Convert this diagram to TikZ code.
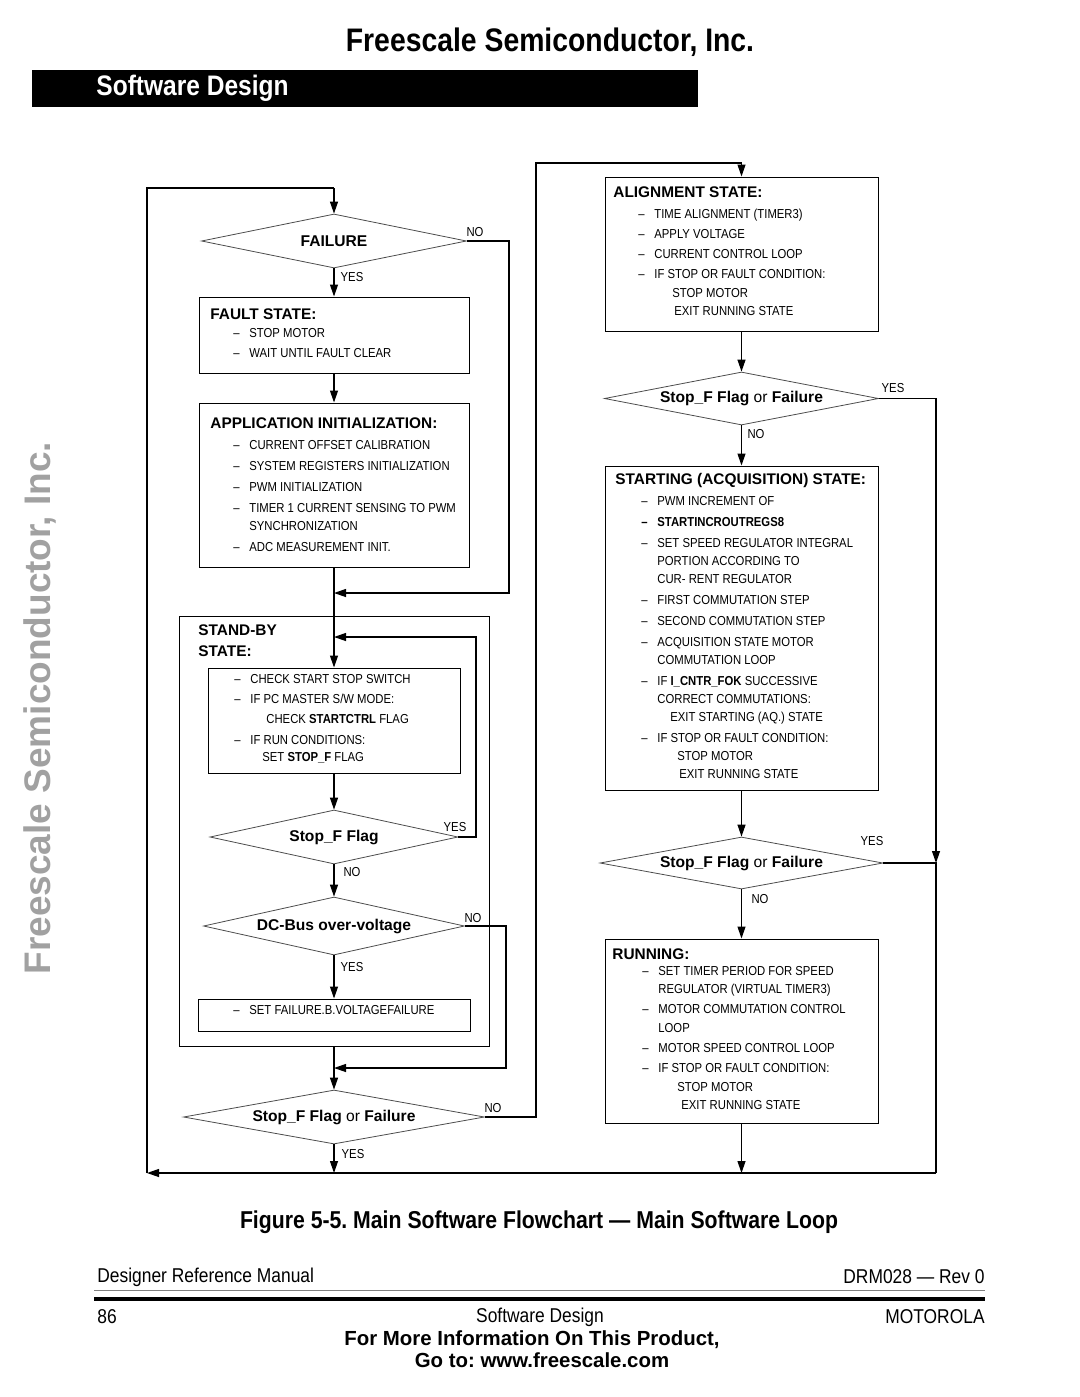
\documentclass[tikz,border=0pt]{standalone}
\usepackage{fontspec}
\setmainfont{Liberation Sans}
\newfontfamily\narrowfont[FakeStretch=0.87]{Liberation Sans}
\usetikzlibrary{arrows.meta,positioning,shapes.geometric,fit}
\definecolor{wmgray}{gray}{0.63}
\definecolor{rulegray}{gray}{0.5}
\frenchspacing

\newlength{\dashind}
\NewDocumentCommand\itm{m}{\hspace*{\dashind}\makebox[8pt][l]{–}#1}
\NewDocumentCommand\cnt{O{0pt}m}{\hspace*{\dashind}\hspace*{8pt}\hspace*{#1}#2}
\NewDocumentCommand\ttl{m}{{\normalfont\bfseries\fontsize{7.7}{9}\selectfont #1}}
\newcommand{\itmfont}{\narrowfont\fontsize{6.5}{9}\selectfont}
\newcommand{\dlbfont}{\normalfont\bfseries\fontsize{7.8}{9}\selectfont}

\begin{document}
\begin{tikzpicture}[x=0.5pt,y=-0.5pt,
  box/.style={draw,line width=0.5pt,inner sep=0pt},
  dia/.style={diamond,draw=black!70,line width=0.4pt,inner sep=0pt,font=\dlbfont},
  txt/.style={anchor=north west,inner sep=0pt,align=left,font=\itmfont},
  lbl/.style={inner sep=0pt,font=\itmfont},
  ind/.code={\setlength{\dashind}{#1}},
  ln/.style={line width=0.6pt},
  arr/.style={ln,-{Triangle[length=6pt,width=4pt]}}
  ]
\useasboundingbox (0,0) rectangle (1080,1397);

% page head
\node[font=\narrowfont\bfseries\fontsize{16.3}{18}\selectfont] (head) at (550,42) {Freescale Semiconductor, Inc.};
\node[fill=black,inner sep=0pt,fit={(32,70) (698,107)}] (bar) {};
\node[anchor=west,inner sep=0pt,text=white,font=\narrowfont\bfseries\fontsize{14.1}{16}\selectfont] (barT) at (96,88) {Software Design};
\node[rotate=90,inner sep=0pt,text=wmgray,font=\bfseries\fontsize{18.5}{20}\selectfont] (wm) at (40,708) {Freescale Semiconductor, Inc.};

% left column
\node[dia,minimum width=132.5pt,minimum height=27pt,aspect=4.9] (fail) at (334,241) {FAILURE};
\node[box,fit={(199,297) (469,373)}] (fault) {};
\node[txt,ind=11.5pt] (faultT) at (210,308.5) {\ttl{FAULT STATE:}\\
  \itm{STOP MOTOR}\\[1pt]
  \itm{WAIT UNTIL FAULT CLEAR}};
\node[box,fit={(199,403) (469,567)}] (app) {};
\node[txt,ind=11.5pt] (appT) at (210,417.5) {\ttl{APPLICATION INITIALIZATION:}\\[1.5pt]
  \itm{CURRENT OFFSET CALIBRATION}\\[1.5pt]
  \itm{SYSTEM REGISTERS INITIALIZATION}\\[1.5pt]
  \itm{PWM INITIALIZATION}\\[1.5pt]
  \itm{TIMER 1 CURRENT SENSING TO PWM}\\
  \cnt{SYNCHRONIZATION}\\[1.5pt]
  \itm{ADC MEASUREMENT INIT.}};
\node[box,fit={(179,616) (489,1046)}] (sbout) {};
\node[txt] (sboutT) at (198,624.5) {\ttl{STAND-BY}\\[1.5pt]\ttl{STATE:}};
\node[box,fit={(208,668) (460,773)}] (sbin) {};
\node[txt,ind=0pt] (sbinT) at (234,674.3) {\itm{CHECK START STOP SWITCH}\\[1pt]
  \itm{IF PC MASTER S/W MODE:}\\[1pt]
  \cnt[8pt]{CHECK \textbf{STARTCTRL} FLAG}\\[1.5pt]
  \itm{IF RUN CONDITIONS:}\\[-0.5pt]
  \cnt[6pt]{SET \textbf{STOP\_F} FLAG}};
\node[dia,minimum width=124pt,minimum height=27pt,aspect=4.6] (stopf) at (334,837) {Stop\_F Flag};
\node[dia,minimum width=130.5pt,minimum height=29pt,aspect=4.5] (dcbus) at (334,926) {DC-Bus over-voltage};
\node[box,fit={(198,999) (470,1031)}] (setf) {};
\node[txt,ind=0pt] (setfT) at (233,1005.3) {\itm{SET FAILURE.B.VOLTAGEFAILURE}};
\node[dia,minimum width=150.5pt,minimum height=27pt,aspect=5.6] (sff) at (334,1117) {Stop\_F Flag \textmd{or} Failure};

% right column
\node[box,fit={(605,177) (878,331)}] (align) {};
\node[txt,ind=12.5pt] (alignT) at (613,186.5) {\ttl{ALIGNMENT STATE:}\\[1.5pt]
  \itm{TIME ALIGNMENT (TIMER3)}\\[1pt]
  \itm{APPLY VOLTAGE}\\[1pt]
  \itm{CURRENT CONTROL LOOP}\\[1pt]
  \itm{IF STOP OR FAULT CONDITION:}\\[0.5pt]
  \cnt[9pt]{STOP MOTOR}\\
  \cnt[10pt]{EXIT RUNNING STATE}};
\node[dia,minimum width=137pt,minimum height=26.5pt,aspect=5.2] (sfr1) at (741.5,398.5) {Stop\_F Flag \textmd{or} Failure};
\node[box,fit={(605,466) (878,790)}] (start) {};
\node[txt,ind=13pt] (startT) at (615,473) {\ttl{STARTING (ACQUISITION) STATE:}\\[1.5pt]
  \itm{PWM INCREMENT OF}\\[1.5pt]
  \textbf{\itm{STARTINCROUTREGS8}}\\[1.5pt]
  \itm{SET SPEED REGULATOR INTEGRAL}\\
  \cnt{PORTION ACCORDING TO}\\
  \cnt{CUR- RENT REGULATOR}\\[1.5pt]
  \itm{FIRST COMMUTATION STEP}\\[1.5pt]
  \itm{SECOND COMMUTATION STEP}\\[1.5pt]
  \itm{ACQUISITION STATE MOTOR}\\
  \cnt{COMMUTATION LOOP}\\[1.5pt]
  \itm{IF \textbf{I\_CNTR\_FOK} SUCCESSIVE}\\
  \cnt{CORRECT COMMUTATIONS:}\\
  \cnt[6.5pt]{EXIT STARTING (AQ.) STATE}\\[1.5pt]
  \itm{IF STOP OR FAULT CONDITION:}\\
  \cnt[10pt]{STOP MOTOR}\\
  \cnt[11pt]{EXIT RUNNING STATE}};
\node[dia,minimum width=141.5pt,minimum height=26pt,aspect=5.4] (sfr2) at (741.5,863) {Stop\_F Flag \textmd{or} Failure};
\node[box,fit={(605,939) (878,1123)}] (run) {};
\node[txt,ind=15pt] (runT) at (612,948.5) {\ttl{RUNNING:}\\[-1pt]
  \itm{SET TIMER PERIOD FOR SPEED}\\
  \cnt{REGULATOR (VIRTUAL TIMER3)}\\[1pt]
  \itm{MOTOR COMMUTATION CONTROL}\\[0.5pt]
  \cnt{LOOP}\\[1pt]
  \itm{MOTOR SPEED CONTROL LOOP}\\[1pt]
  \itm{IF STOP OR FAULT CONDITION:}\\[0.5pt]
  \cnt[9.5pt]{STOP MOTOR}\\
  \cnt[11.5pt]{EXIT RUNNING STATE}};

% yes / no
\node[lbl] (failNo) at (475,232) {NO};
\node[lbl] (failYes) at (352,277) {YES};
\node[lbl] (stopfYes) at (455,827) {YES};
\node[lbl] (stopfNo) at (352,872) {NO};
\node[lbl] (dcNo) at (473,918) {NO};
\node[lbl] (dcYes) at (352,967) {YES};
\node[lbl] (sffNo) at (493,1108) {NO};
\node[lbl] (sffYes) at (353,1154) {YES};
\node[lbl] (sfr1Yes) at (893,388) {YES};
\node[lbl] (sfr1No) at (756,434) {NO};
\node[lbl] (sfr2Yes) at (872,841) {YES};
\node[lbl] (sfr2No) at (760,899) {NO};

% bend points
\coordinate (tA) at (334,188);
\coordinate (bL) at (147,1173);
\coordinate (bR) at (936,1173);
\coordinate (b1) at (334,1173);
\coordinate (b2) at (741.5,1173);
\coordinate (j1) at (334,593);
\coordinate (noA) at (509,593);
\coordinate (j2) at (334,637);
\coordinate (sbA) at (476,637);
\coordinate (j3) at (334,1068);
\coordinate (dcA) at (506,1068);
\coordinate (nB) at (536,163);
\coordinate (j4) at (936,863);

\draw[arr] (fail.south) -- (fault.north);
\draw[arr] (fault.south) -- (app.north);
\draw[arr] (app.south) -- (sbin.north);
\draw[arr] (fail.east) -| (noA) -- (j1);
\draw[arr] (sbin.south) -- (stopf.north);
\draw[arr] (stopf.east) -| (sbA) -- (j2);
\draw[arr] (stopf.south) -- (dcbus.north);
\draw[arr] (dcbus.south) -- (setf.north);
\draw[arr] (dcbus.east) -| (dcA) -- (j3);
\draw[arr] (sbout.south) -- (sff.north);
\draw[arr] (sff.south) -- (b1);
\draw[arr] (sff.east) -| (nB) -| (align.north);
\draw[arr] (align.south) -- (sfr1.north);
\draw[arr] (sfr1.south) -- (start.north);
\draw[arr] (start.south) -- (sfr2.north);
\draw[arr] (sfr2.south) -- (run.north);
\draw[arr] (run.south) -- (b2);
\draw[arr] (sfr1.east) -| (j4);
\draw[ln] (sfr2.east) -- (j4) -- (bR);
\draw[arr] (bR) -- (bL);
\draw[ln] (bL) |- (tA);
\draw[arr] (tA) -- (fail.north);

% caption and page foot
\node[font=\narrowfont\bfseries\fontsize{12.2}{14}\selectfont] (cap) at (539,1222) {Figure 5-5. Main Software Flowchart — Main Software Loop};
\node[anchor=west,inner sep=0pt,font=\narrowfont\fontsize{10}{12}\selectfont] (manual) at (97,1277) {Designer Reference Manual};
\node[anchor=east,inner sep=0pt,font=\narrowfont\fontsize{10}{12}\selectfont] (rev) at (985,1277) {DRM028 — Rev 0};
\draw[rulegray,line width=0.5pt] (94,1290) -- (985,1290);
\draw[line width=2pt] (94,1299) -- (985,1299);
\node[anchor=west,inner sep=0pt,font=\narrowfont\fontsize{10}{12}\selectfont] (page) at (97,1317) {86};
\node[inner sep=0pt,font=\narrowfont\fontsize{10}{12}\selectfont] (sect) at (540,1317) {Software Design};
\node[anchor=east,inner sep=0pt,font=\narrowfont\fontsize{10}{12}\selectfont] (moto) at (985,1317) {MOTOROLA};
\node[inner sep=0pt,font=\bfseries\fontsize{10.2}{12}\selectfont] (info) at (532,1340) {For More Information On This Product,};
\node[inner sep=0pt,font=\bfseries\fontsize{10.2}{12}\selectfont] (web) at (542,1360) {Go to: www.freescale.com};
\end{tikzpicture}
\end{document}
